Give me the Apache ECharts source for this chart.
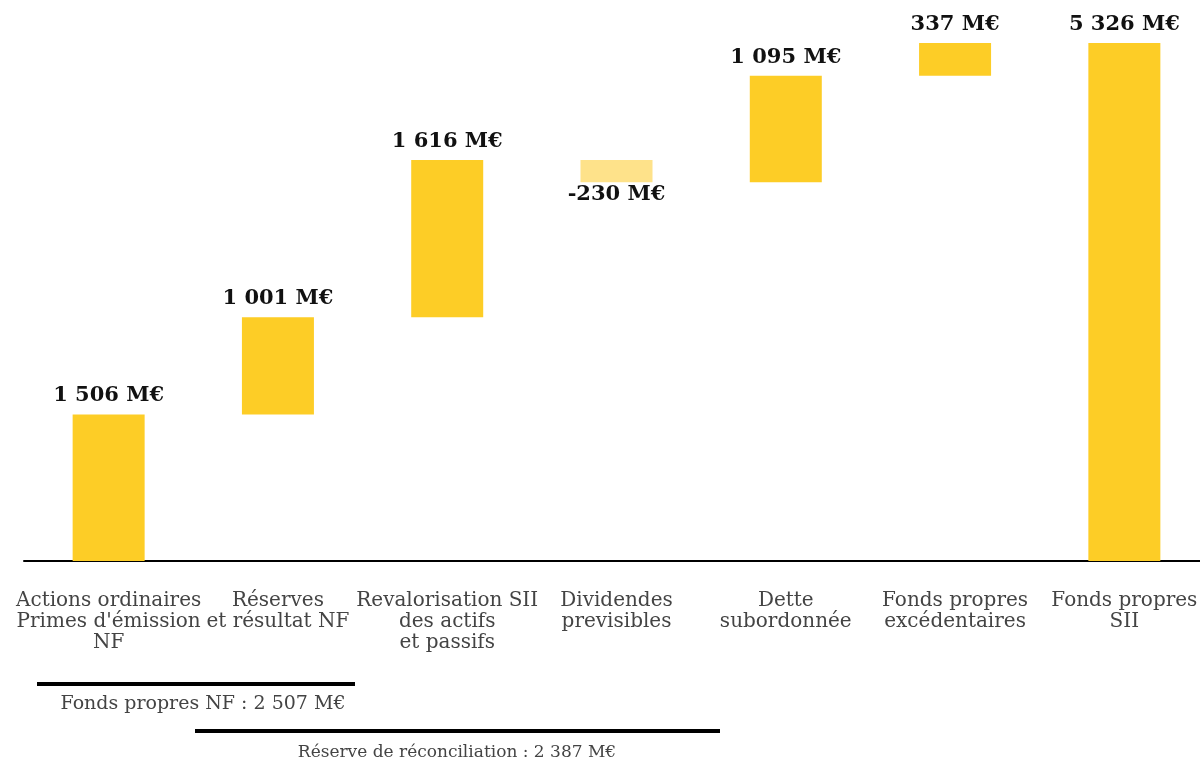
<!DOCTYPE html>
<html>
<head>
<meta charset="utf-8">
<script src="https://cdn.jsdelivr.net/npm/echarts@6/dist/echarts.min.js"></script>
<style>html,body{margin:0;padding:0;background:#fff}#c{width:1200px;height:760px}</style>
</head>
<body>
<div id="c"></div>
<script>
const categories = ["Actions ordinaires\nPrimes d'émission\nNF", "Réserves\net résultat NF", "Revalorisation SII\ndes actifs\net passifs", "Dividendes\nprevisibles", "Dette\nsubordonnée", "Fonds propres\nexcédentaires", "Fonds propres\nSII"];
const deltas = [1506, 1001, 1616, -230, 1095, 337, 5326];
const isTotal = [false, false, false, false, false, false, true];
const valueLabels = ["1 506 M€", "1 001 M€", "1 616 M€", "-230 M€", "1 095 M€", "337 M€", "5 326 M€"];
const groupLabels = ["Fonds propres NF : 2 507 M€", "Réserve de réconciliation : 2 387 M€"];

const FONT = "'DejaVu Serif'";
const YELLOW = '#FDCD26';
const LIGHT = '#FEE28A';

let run = 0;
const base = [], height = [];
deltas.forEach((d, i) => {
  if (isTotal[i]) { base.push(0); height.push(d); run = d; }
  else if (d >= 0) { base.push(run); height.push(d); run += d; }
  else { base.push(run + d); height.push(-d); run += d; }
});

const chart = echarts.init(document.getElementById('c'));
chart.setOption({
  animation: false,
  grid: { left: 24, width: 1185, top: 43, bottom: 199, outerBoundsMode: 'none', containLabel: false },
  xAxis: {
    type: 'category', data: categories,
    axisLine: { lineStyle: { color: '#000', width: 2 } },
    axisTick: { show: false },
    axisLabel: { interval: 0, margin: 29, fontFamily: FONT, fontSize: 20, color: '#444', lineHeight: 21, align: 'center' }
  },
  yAxis: { type: 'value', min: 0, max: function (v) { return v.max; }, show: false, splitLine: { show: false } },
  series: [
    { type: 'bar', stack: 'w', data: base, barWidth: 72, itemStyle: { color: 'transparent' }, silent: true },
    {
      type: 'bar', stack: 'w', barWidth: 72,
      data: height.map((h, i) => ({
        value: h,
        itemStyle: { color: deltas[i] < 0 ? LIGHT : YELLOW },
        label: { position: deltas[i] < 0 ? 'bottom' : 'top', distance: deltas[i] < 0 ? 2 : 8 }
      })),
      label: {
        show: true, fontFamily: FONT, fontWeight: 'bold', fontSize: 21, color: '#111',
        formatter: p => valueLabels[p.dataIndex]
      }
    }
  ],
  graphic: [
    { type: 'line', shape: { x1: 37, y1: 684, x2: 355, y2: 684 }, style: { stroke: '#000', lineWidth: 4 } },
    { type: 'text', x: 203, y: 704, style: { text: groupLabels[0], fontFamily: FONT, fontSize: 19, fill: '#444', textAlign: 'center', textVerticalAlign: 'middle' } },
    { type: 'line', shape: { x1: 195, y1: 731, x2: 720, y2: 731 }, style: { stroke: '#000', lineWidth: 4 } },
    { type: 'text', x: 457, y: 753, style: { text: groupLabels[1], fontFamily: FONT, fontSize: 17, fill: '#444', textAlign: 'center', textVerticalAlign: 'middle' } }
  ]
});
</script>
</body>
</html>
